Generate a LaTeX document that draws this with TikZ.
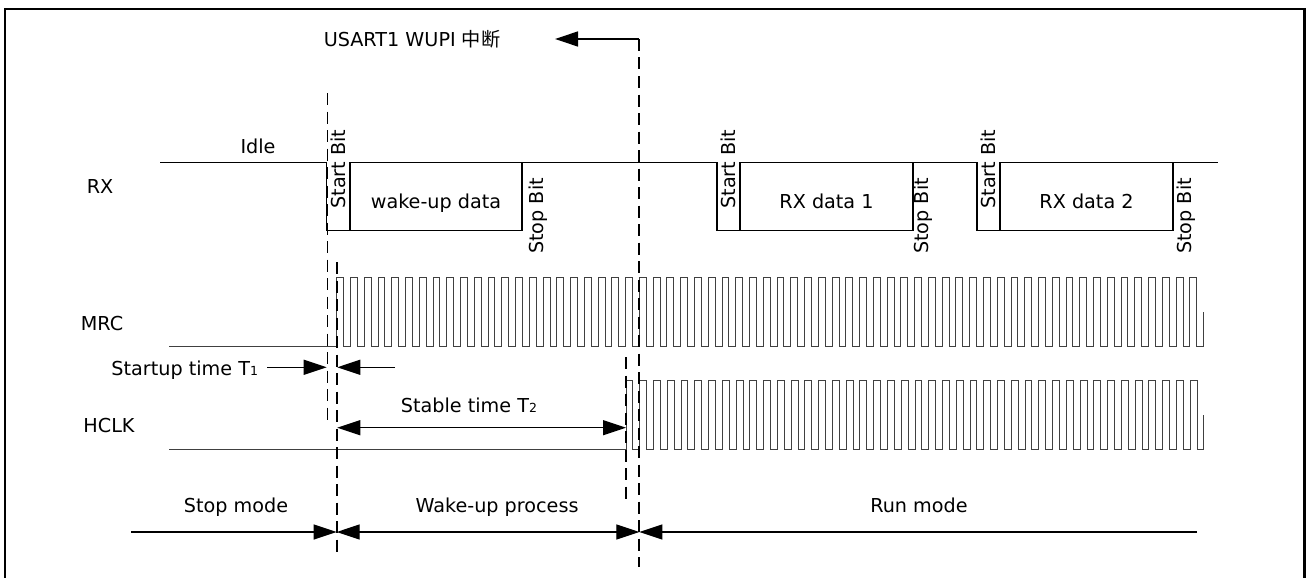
\documentclass[tikz,border=0pt]{standalone}
\usepackage{fontspec}
\setmainfont{DejaVu Sans}
\newfontfamily\cjk{Noto Sans CJK SC}
\usetikzlibrary{arrows.meta}

\begin{document}
\begin{tikzpicture}[x=1pt,y=-1pt,
  every node/.style={font=\fontsize{19.2}{23}\selectfont, inner sep=0pt, outer sep=0pt},
  sig/.style={line width=1.3pt},
  clk/.style={line width=0.9pt, black!75, line join=miter},
  guide/.style={line width=1.7pt, dash pattern=on 12pt off 6.5pt},
  tip/.style={-{Triangle[length=23pt,width=15pt]}},
  dtip/.style={{Triangle[length=23pt,width=15pt]}-{Triangle[length=23pt,width=15pt]}},
  databox/.style={draw, line width=1.3pt, minimum height=68pt, anchor=north west},
  vlabel/.style={rotate=90},
  lbl/.style={anchor=base},
]
\newcommand\subsc[1]{{\fontsize{12.5}{12.5}\selectfont #1}}
\useasboundingbox (0,0) rectangle (1306,578);
\fill[white] (0,0) rectangle (1306,578);

% outer frame (open at the bottom edge of the page)
\draw[line width=2.4pt] (5,600) -- (5,9) -- (1304.5,9) -- (1304.5,600);

% ---------------- RX line ----------------
\node[lbl] (rxlbl) at (100,193) {RX};
\node[lbl] (idle) at (258,153) {Idle};
\draw[sig] (160,162.7) -- (326.7,162.7) -- (326.7,230.7) -- (522,230.7) -- (522,162.7)
  -- (717,162.7) -- (717,230.7) -- (913,230.7) -- (913,162.7)
  -- (977,162.7) -- (977,230.7) -- (1173,230.7) -- (1173,162.7) -- (1217.5,162.7);
\node[databox, minimum width=172pt] (wdata) at (350,162.7) {};
\node[databox, minimum width=173pt] (rx1) at (740,162.7) {};
\node[databox, minimum width=173pt] (rx2) at (1000,162.7) {};
\node[lbl] (wtext) at (436,208.3) {wake-up data};
\node[lbl] (r1text) at (826.5,208.3) {RX data 1};
\node[lbl] (r2text) at (1086.5,208.3) {RX data 2};
\node[vlabel] (sb0) at (338.5,169) {Start Bit};
\node[vlabel] (sb1) at (728.5,169) {Start Bit};
\node[vlabel] (sb2) at (988.5,169) {Start Bit};
\node[vlabel] (pb0) at (538,216) {Stop Bit};
\node[vlabel] (pb1) at (923,216) {Stop Bit};
\node[vlabel] (pb2) at (1186,216) {Stop Bit};

% ---------------- MRC clock ----------------
\node[lbl] (mrclbl) at (102,330) {MRC};
\draw[clk] (169,346) -- (336.7,346)
  \foreach \k in {0,...,62} { -- ++(0,-68.7) -- ++(6.88,0) -- ++(0,68.7) -- ++(6.88,0) }
  -- ++(0,-34.3);

% ---------------- HCLK clock ----------------
\node[lbl] (hclklbl) at (109,432.5) {HCLK};
\draw[clk] (169,449.3) -- (626,449.3)
  \foreach \k in {0,...,41} { -- ++(0,-68.6) -- ++(6.88,0) -- ++(0,68.6) -- ++(6.88,0) }
  -- ++(0,-34.3);

% ---------------- guide lines ----------------
\draw[guide] (327.5,93) -- (327.5,423);
\draw[guide] (336.7,262) -- (336.7,553);
\draw[guide] (626,357) -- (626,502);
\coordinate (irq) at (639.3,39);
\draw[guide] (irq) -- (639.3,567);

% interrupt flag
\node[lbl] (irqtxt) at (412,46.7) {USART1 WUPI {\cjk 中断}};
\coordinate (irqtip) at (555,39);
\draw[sig,tip] (irq) -- (irqtip);

% startup time T1
\node[anchor=base east] (t1) at (258,375) {Startup time T\subsc{1}};
\coordinate (t1a) at (267,367.3);
\coordinate (t1b) at (326.7,367.3);
\coordinate (t1c) at (337.3,367.3);
\coordinate (t1d) at (395,367.3);
\draw[sig,tip] (t1a) -- (t1b);
\draw[sig,tip] (t1d) -- (t1c);

% stable time T2
\node[lbl] (t2) at (469,412.7) {Stable time T\subsc{2}};
\coordinate (t2a) at (337.3,427.7);
\coordinate (t2b) at (626,427.7);
\draw[sig,dtip] (t2a) -- (t2b);

% ---------------- operating modes ----------------
\node[lbl] (stopm) at (236,512) {Stop mode};
\node[lbl] (wakem) at (497,512) {Wake-up process};
\node[lbl] (runm) at (919,512) {Run mode};
\coordinate (m0) at (131,532);
\coordinate (m1) at (336.7,532);
\coordinate (m2) at (639.3,532);
\coordinate (m3) at (1197,532);
\draw[sig,tip] (m0) -- (m1);
\draw[sig,dtip] (m1) -- (m2);
\draw[sig,tip] (m3) -- (m2);
\end{tikzpicture}
\end{document}
